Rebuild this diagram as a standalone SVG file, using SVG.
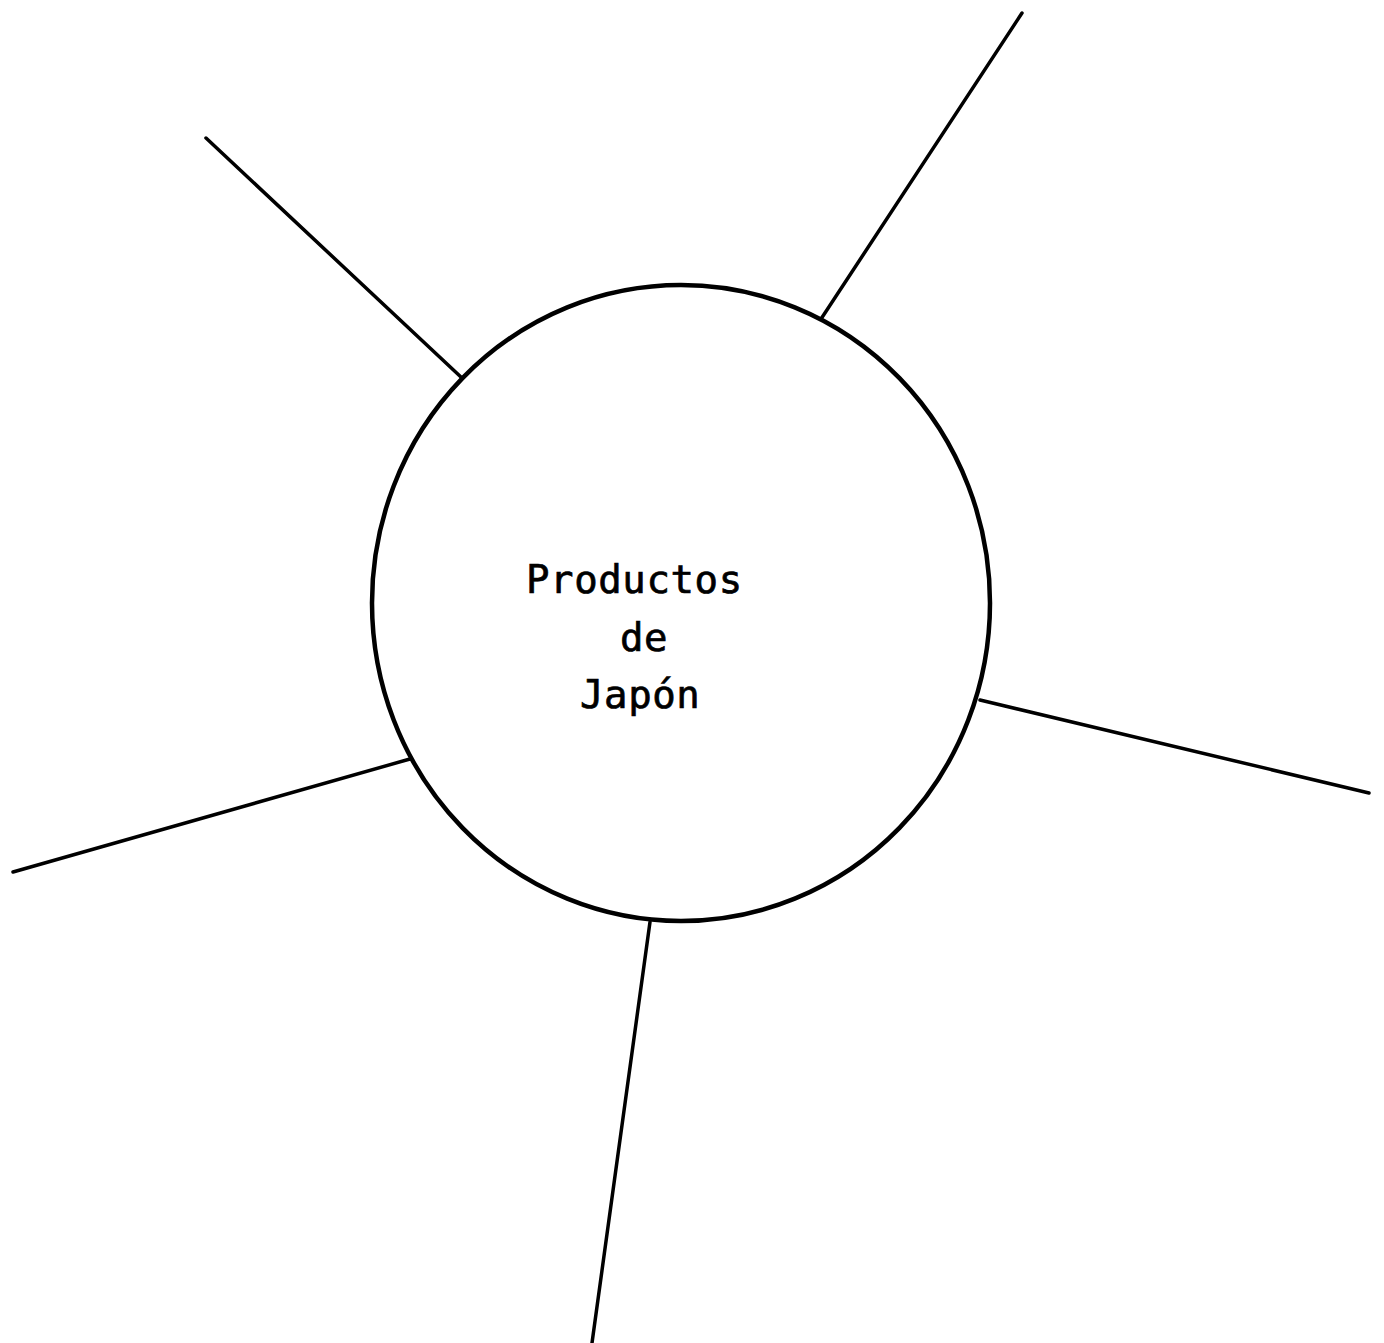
<svg xmlns="http://www.w3.org/2000/svg" width="1384" height="1343" viewBox="0 0 1384 1343">
<style>
.conn{stroke:#000;stroke-width:3.5;stroke-linecap:round;fill:none}
.node{stroke:#000;stroke-width:4.5;fill:#fff}
.lbl{font-family:"DejaVu Sans Mono","Liberation Mono",monospace;font-size:39px;letter-spacing:0.6px;fill:#000;stroke:#000;stroke-width:0.7}
</style>
<rect width="1384" height="1343" fill="#fff"/>
<g id="connectors">
<line class="conn" x1="206" y1="138" x2="462" y2="378"/>
<line class="conn" x1="1022" y1="13" x2="821" y2="319"/>
<line class="conn" x1="980" y1="700" x2="1369" y2="793"/>
<line class="conn" x1="410" y1="759" x2="13" y2="872"/>
<line class="conn" x1="650" y1="922" x2="592" y2="1343"/>
</g>
<g id="center">
<ellipse class="node" cx="681" cy="603" rx="309" ry="318"/>
<text class="lbl" x="526" y="593">Productos</text>
<text class="lbl" x="620" y="651">de</text>
<text class="lbl" x="580" y="708">Japón</text>
</g>
</svg>
